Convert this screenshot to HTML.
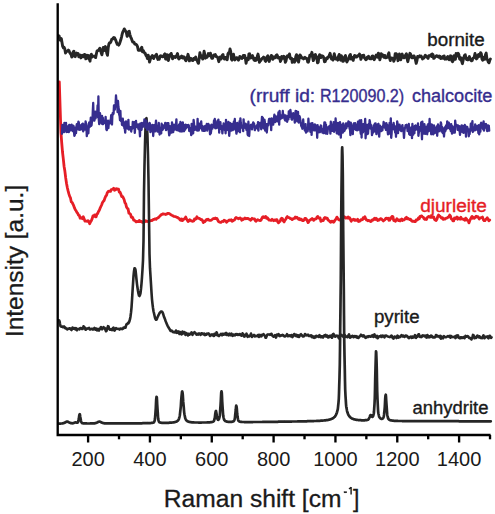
<!DOCTYPE html>
<html><head><meta charset="utf-8"><style>
html,body{margin:0;padding:0;background:#fff;}
svg{display:block;}
text{font-family:"Liberation Sans",sans-serif;}
</style></head><body>
<svg width="495" height="514" viewBox="0 0 495 514">
<rect width="495" height="514" fill="#fff"/>
<g fill="none" stroke-linejoin="round" stroke-linecap="round">
<path d="M59.3 81.9 L60.1 107.1 60.9 131.8 61.7 142.6 62.5 152.0 63.3 158.8 64.1 166.5 64.9 171.3 65.7 177.9 66.5 183.3 67.3 187.5 68.1 190.9 68.9 193.9 69.7 196.4 70.5 197.9 71.3 201.9 72.1 202.4 72.9 204.0 73.7 205.7 74.5 207.9 75.3 209.7 76.1 210.8 76.9 212.3 77.7 213.3 78.5 215.2 79.3 215.3 80.1 218.2 80.9 217.4 81.7 218.0 82.5 218.8 83.3 216.8 84.1 218.7 84.9 221.0 85.7 221.1 86.5 221.1 87.3 221.3 88.1 220.7 88.9 221.7 89.7 223.7 90.5 222.0 91.3 220.8 92.1 218.9 92.9 216.0 93.7 216.4 94.5 215.0 95.3 216.8 96.1 216.8 96.9 214.0 97.7 213.5 98.5 211.5 99.3 210.2 100.1 208.2 100.9 206.5 101.7 204.7 102.5 202.5 103.3 201.4 104.1 200.5 104.9 198.1 105.7 196.3 106.5 195.4 107.3 192.7 108.1 191.6 108.9 191.2 109.7 191.1 110.5 191.4 111.3 189.7 112.1 189.5 112.9 188.9 113.7 188.3 114.5 190.3 115.3 189.8 116.1 188.7 116.9 189.3 117.7 189.0 118.5 189.2 119.3 192.1 120.1 192.2 120.9 194.2 121.7 196.5 122.5 196.4 123.3 197.8 124.1 199.5 124.9 202.6 125.7 203.7 126.5 207.0 127.3 208.3 128.1 209.1 128.9 213.2 129.7 213.5 130.5 214.2 131.3 217.2 132.1 216.9 132.9 218.1 133.7 220.2 134.5 220.4 135.3 221.0 136.1 221.9 136.9 221.5 137.7 221.6 138.5 221.5 139.3 220.4 140.1 221.6 140.9 221.3 141.7 221.6 142.5 222.4 143.3 221.9 144.1 221.6 144.9 221.8 145.7 220.7 146.5 221.0 147.3 221.6 148.1 221.2 148.9 221.3 149.7 221.1 150.5 220.7 151.3 220.5 152.1 220.6 152.9 219.7 153.7 219.3 154.5 219.3 155.3 218.8 156.1 219.2 156.9 218.3 157.7 218.0 158.5 217.5 159.3 216.6 160.1 216.0 160.9 214.9 161.7 214.6 162.5 214.0 163.3 213.9 164.1 214.1 164.9 214.1 165.7 214.5 166.5 214.2 167.3 213.4 168.1 213.5 168.9 213.3 169.7 213.9 170.5 214.5 171.3 214.9 172.1 215.5 172.9 215.8 173.7 216.3 174.5 216.5 175.3 216.7 176.1 216.9 176.9 217.4 177.7 217.5 178.5 218.3 179.3 218.6 180.1 219.9 180.9 220.3 181.7 218.9 182.5 220.6 183.3 219.7 184.1 218.9 184.9 218.7 185.7 217.0 186.5 219.0 187.3 220.2 188.1 221.5 188.9 221.1 189.7 219.8 190.5 220.2 191.3 220.9 192.1 221.1 192.9 221.3 193.7 221.0 194.5 218.9 195.3 219.4 196.1 218.7 196.9 216.8 197.7 218.0 198.5 218.4 199.3 218.3 200.1 219.0 200.9 219.7 201.7 219.5 202.5 220.6 203.3 222.6 204.1 221.1 204.9 221.5 205.7 220.6 206.5 219.5 207.3 219.8 208.1 219.2 208.9 220.2 209.7 220.4 210.5 220.3 211.3 220.1 212.1 219.5 212.9 218.8 213.7 218.5 214.5 218.7 215.3 218.0 216.1 218.6 216.9 218.5 217.7 220.0 218.5 221.5 219.3 221.9 220.1 222.3 220.9 222.4 221.7 221.7 222.5 221.3 223.3 221.5 224.1 220.1 224.9 220.9 225.7 221.0 226.5 222.3 227.3 221.5 228.1 220.9 228.9 220.2 229.7 220.0 230.5 220.4 231.3 219.8 232.1 221.3 232.9 220.8 233.7 220.3 234.5 220.0 235.3 218.3 236.1 217.5 236.9 218.2 237.7 218.2 238.5 218.8 239.3 218.4 240.1 217.9 240.9 218.5 241.7 220.2 242.5 219.0 243.3 219.5 244.1 218.8 244.9 218.0 245.7 218.8 246.5 218.7 247.3 218.3 248.1 218.4 248.9 219.2 249.7 219.2 250.5 220.3 251.3 219.5 252.1 218.3 252.9 218.9 253.7 218.8 254.5 218.9 255.3 220.8 256.1 221.3 256.9 220.2 257.7 219.7 258.5 220.2 259.3 220.3 260.1 220.6 260.9 220.3 261.7 218.6 262.5 217.2 263.3 216.6 264.1 217.5 264.9 217.0 265.7 216.5 266.5 218.3 267.3 217.8 268.1 218.7 268.9 220.1 269.7 220.0 270.5 220.3 271.3 220.4 272.1 219.3 272.9 220.0 273.7 220.7 274.5 219.9 275.3 220.5 276.1 219.7 276.9 219.6 277.7 221.8 278.5 222.8 279.3 221.9 280.1 221.4 280.9 219.1 281.7 218.3 282.5 218.8 283.3 220.9 284.1 221.9 284.9 220.1 285.7 219.5 286.5 217.6 287.3 216.6 288.1 217.5 288.9 217.7 289.7 217.9 290.5 218.7 291.3 218.7 292.1 219.6 292.9 218.9 293.7 218.6 294.5 218.3 295.3 217.1 296.1 218.0 296.9 217.2 297.7 218.1 298.5 219.3 299.3 218.5 300.1 219.9 300.9 219.1 301.7 219.5 302.5 220.6 303.3 220.6 304.1 220.1 304.9 218.4 305.7 218.3 306.5 219.4 307.3 220.9 308.1 222.6 308.9 221.4 309.7 220.0 310.5 219.8 311.3 219.2 312.1 218.5 312.9 219.3 313.7 220.3 314.5 219.1 315.3 219.2 316.1 218.8 316.9 217.3 317.7 216.4 318.5 218.0 319.3 217.9 320.1 218.0 320.9 221.3 321.7 220.8 322.5 220.1 323.3 220.6 324.1 218.2 324.9 217.5 325.7 218.4 326.5 217.9 327.3 218.3 328.1 220.1 328.9 220.5 329.7 221.5 330.5 222.2 331.3 221.3 332.1 221.8 332.9 221.2 333.7 222.2 334.5 221.1 335.3 219.8 336.1 218.8 336.9 217.1 337.7 218.2 338.5 219.5 339.3 220.0 340.1 220.3 340.9 219.6 341.7 218.0 342.5 217.6 343.3 217.6 344.1 216.6 344.9 217.2 345.7 218.1 346.5 217.6 347.3 218.1 348.1 217.0 348.9 218.4 349.7 217.8 350.5 219.8 351.3 221.2 352.1 219.6 352.9 219.7 353.7 219.3 354.5 220.2 355.3 219.7 356.1 220.4 356.9 220.4 357.7 219.3 358.5 221.5 359.3 221.3 360.1 220.9 360.9 219.7 361.7 219.8 362.5 219.7 363.3 217.6 364.1 218.4 364.9 216.8 365.7 218.7 366.5 220.1 367.3 220.2 368.1 220.8 368.9 220.5 369.7 220.7 370.5 221.5 371.3 221.4 372.1 220.0 372.9 220.1 373.7 219.4 374.5 218.3 375.3 219.4 376.1 218.3 376.9 219.2 377.7 220.6 378.5 219.6 379.3 220.0 380.1 219.0 380.9 218.6 381.7 219.2 382.5 220.0 383.3 220.9 384.1 220.2 384.9 219.8 385.7 218.4 386.5 218.2 387.3 218.7 388.1 218.2 388.9 220.3 389.7 220.2 390.5 218.0 391.3 218.3 392.1 216.4 392.9 216.6 393.7 220.6 394.5 220.2 395.3 221.3 396.1 220.3 396.9 218.7 397.7 219.6 398.5 220.5 399.3 220.0 400.1 220.9 400.9 219.7 401.7 218.9 402.5 220.5 403.3 219.9 404.1 219.9 404.9 219.1 405.7 217.9 406.5 217.3 407.3 218.9 408.1 218.4 408.9 219.1 409.7 219.6 410.5 219.2 411.3 220.5 412.1 221.3 412.9 221.2 413.7 221.4 414.5 221.5 415.3 221.7 416.1 219.9 416.9 220.2 417.7 219.6 418.5 218.0 419.3 218.7 420.1 216.3 420.9 216.2 421.7 215.9 422.5 217.0 423.3 217.3 424.1 218.7 424.9 219.4 425.7 218.8 426.5 219.4 427.3 217.7 428.1 216.7 428.9 216.4 429.7 217.0 430.5 217.4 431.3 217.2 432.1 217.4 432.9 216.7 433.7 217.0 434.5 219.4 435.3 220.1 436.1 220.5 436.9 219.2 437.7 216.7 438.5 215.0 439.3 215.8 440.1 216.4 440.9 217.5 441.7 218.3 442.5 217.8 443.3 219.4 444.1 218.9 444.9 219.1 445.7 218.4 446.5 218.0 447.3 217.8 448.1 217.2 448.9 216.7 449.7 215.0 450.5 216.1 451.3 218.9 452.1 219.2 452.9 220.9 453.7 220.8 454.5 218.0 455.3 218.6 456.1 217.7 456.9 217.0 457.7 219.2 458.5 218.0 459.3 218.5 460.1 219.2 460.9 217.3 461.7 218.9 462.5 219.2 463.3 219.1 464.1 219.8 464.9 220.2 465.7 218.1 466.5 219.0 467.3 220.4 468.1 220.6 468.9 222.9 469.7 220.8 470.5 219.0 471.3 217.6 472.1 216.4 472.9 218.2 473.7 217.7 474.5 218.2 475.3 217.2 476.1 216.3 476.9 217.0 477.7 216.6 478.5 217.4 479.3 219.0 480.1 218.0 480.9 217.7 481.7 217.7 482.5 217.1 483.3 219.6 484.1 220.7 484.9 220.7 485.7 219.5 486.5 218.7 487.3 217.8 488.1 219.4 488.9 220.8 489.7 220.0" stroke="#e61e26" stroke-width="2.8"/>
<path d="M58.5 423.6 L58.8 423.6 59.0 423.6 59.2 423.6 59.5 423.6 59.8 423.6 60.0 423.6 60.2 423.6 60.5 423.6 60.8 423.5 61.0 423.5 61.2 423.5 61.5 423.5 61.8 423.5 62.0 423.5 62.2 423.4 62.5 423.4 62.8 423.3 63.0 423.3 63.2 423.2 63.5 423.2 63.8 423.1 64.0 423.0 64.2 422.9 64.5 422.8 64.8 422.7 65.0 422.5 65.2 422.4 65.5 422.2 65.8 422.1 66.0 422.0 66.2 421.8 66.5 421.7 66.8 421.7 67.0 421.6 67.2 421.6 67.5 421.7 67.8 421.7 68.0 421.8 68.2 422.0 68.5 422.1 68.8 422.2 69.0 422.4 69.2 422.5 69.5 422.6 69.8 422.7 70.0 422.8 70.2 422.9 70.5 423.0 70.8 423.1 71.0 423.1 71.2 423.2 71.5 423.2 71.8 423.2 72.0 423.3 72.2 423.3 72.5 423.3 72.8 423.2 73.0 423.2 73.2 423.2 73.5 423.1 73.8 423.0 74.0 422.9 74.2 422.8 74.5 422.7 74.8 422.6 75.0 422.5 75.2 422.4 75.5 422.4 75.8 422.4 76.0 422.4 76.2 422.5 76.5 422.6 76.8 422.6 77.0 422.7 77.2 422.7 77.5 422.6 77.8 422.4 78.0 422.1 78.2 421.4 78.5 420.5 78.8 419.1 79.0 417.5 79.2 415.8 79.5 414.5 79.8 414.2 80.0 415.0 80.2 416.5 80.5 418.2 80.8 419.8 81.0 421.0 81.2 421.9 81.5 422.4 81.8 422.8 82.0 423.0 82.2 423.1 82.5 423.2 82.8 423.2 83.0 423.3 83.2 423.3 83.5 423.3 83.8 423.3 84.0 423.4 84.2 423.4 84.5 423.4 84.8 423.4 85.0 423.4 85.2 423.4 85.5 423.4 85.8 423.4 86.0 423.4 86.2 423.4 86.5 423.4 86.8 423.5 87.0 423.5 87.2 423.5 87.5 423.5 87.8 423.5 88.0 423.5 88.2 423.5 88.5 423.5 88.8 423.5 89.0 423.5 89.2 423.5 89.5 423.5 89.8 423.5 90.0 423.5 90.2 423.4 90.5 423.4 90.8 423.4 91.0 423.4 91.2 423.4 91.5 423.4 91.8 423.4 92.0 423.4 92.2 423.4 92.5 423.4 92.8 423.4 93.0 423.4 93.2 423.4 93.5 423.4 93.8 423.4 94.0 423.3 94.2 423.3 94.5 423.3 94.8 423.3 95.0 423.2 95.2 423.2 95.5 423.1 95.8 423.1 96.0 423.0 96.2 422.9 96.5 422.8 96.8 422.7 97.0 422.6 97.2 422.5 97.5 422.3 97.8 422.2 98.0 422.1 98.2 421.9 98.5 421.8 98.8 421.7 99.0 421.6 99.2 421.6 99.5 421.6 99.8 421.6 100.0 421.7 100.2 421.8 100.5 421.9 100.8 422.0 101.0 422.2 101.2 422.3 101.5 422.4 101.8 422.6 102.0 422.7 102.2 422.8 102.5 422.9 102.8 423.0 103.0 423.0 103.2 423.1 103.5 423.1 103.8 423.2 104.0 423.2 104.2 423.3 104.5 423.3 104.8 423.3 105.0 423.3 105.2 423.3 105.5 423.3 105.8 423.4 106.0 423.4 106.2 423.4 106.5 423.4 106.8 423.4 107.0 423.4 107.2 423.4 107.5 423.4 107.8 423.4 108.0 423.4 108.2 423.4 108.5 423.4 108.8 423.4 109.0 423.4 109.2 423.4 109.5 423.4 109.8 423.4 110.0 423.4 110.2 423.4 110.5 423.4 110.8 423.4 111.0 423.4 111.2 423.4 111.5 423.4 111.8 423.4 112.0 423.4 112.2 423.4 112.5 423.4 112.8 423.4 113.0 423.4 113.2 423.4 113.5 423.4 113.8 423.4 114.0 423.4 114.2 423.4 114.5 423.4 114.8 423.4 115.0 423.4 115.2 423.4 115.5 423.4 115.8 423.4 116.0 423.4 116.2 423.4 116.5 423.4 116.8 423.4 117.0 423.4 117.2 423.4 117.5 423.4 117.8 423.4 118.0 423.4 118.2 423.4 118.5 423.4 118.8 423.4 119.0 423.4 119.2 423.4 119.5 423.4 119.8 423.4 120.0 423.4 120.2 423.4 120.5 423.4 120.8 423.4 121.0 423.4 121.2 423.4 121.5 423.4 121.8 423.4 122.0 423.4 122.2 423.4 122.5 423.4 122.8 423.4 123.0 423.4 123.2 423.4 123.5 423.4 123.8 423.4 124.0 423.4 124.2 423.4 124.5 423.4 124.8 423.4 125.0 423.4 125.2 423.4 125.5 423.4 125.8 423.4 126.0 423.4 126.2 423.4 126.5 423.4 126.8 423.4 127.0 423.4 127.2 423.4 127.5 423.4 127.8 423.4 128.0 423.4 128.2 423.3 128.5 423.3 128.8 423.3 129.0 423.3 129.2 423.3 129.5 423.3 129.8 423.3 130.0 423.3 130.2 423.3 130.5 423.3 130.8 423.3 131.0 423.3 131.2 423.3 131.5 423.3 131.8 423.3 132.0 423.3 132.2 423.3 132.5 423.3 132.8 423.3 133.0 423.3 133.2 423.3 133.5 423.3 133.8 423.3 134.0 423.3 134.2 423.3 134.5 423.3 134.8 423.3 135.0 423.3 135.2 423.3 135.5 423.3 135.8 423.3 136.0 423.3 136.2 423.3 136.5 423.3 136.8 423.3 137.0 423.3 137.2 423.3 137.5 423.3 137.8 423.3 138.0 423.3 138.2 423.3 138.5 423.3 138.8 423.3 139.0 423.3 139.2 423.3 139.5 423.3 139.8 423.3 140.0 423.3 140.2 423.3 140.5 423.3 140.8 423.3 141.0 423.3 141.2 423.3 141.5 423.3 141.8 423.3 142.0 423.3 142.2 423.3 142.5 423.2 142.8 423.2 143.0 423.2 143.2 423.2 143.5 423.2 143.8 423.2 144.0 423.2 144.2 423.2 144.5 423.2 144.8 423.2 145.0 423.2 145.2 423.2 145.5 423.2 145.8 423.2 146.0 423.2 146.2 423.2 146.5 423.2 146.8 423.2 147.0 423.2 147.2 423.2 147.5 423.2 147.8 423.2 148.0 423.2 148.2 423.1 148.5 423.1 148.8 423.1 149.0 423.1 149.2 423.1 149.5 423.1 149.8 423.1 150.0 423.1 150.2 423.1 150.5 423.0 150.8 423.0 151.0 423.0 151.2 423.0 151.5 422.9 151.8 422.9 152.0 422.9 152.2 422.8 152.5 422.8 152.8 422.7 153.0 422.7 153.2 422.6 153.5 422.5 153.8 422.4 154.0 422.1 154.2 421.8 154.5 421.2 154.8 420.2 155.0 418.5 155.2 416.0 155.5 412.4 155.8 408.1 156.0 403.4 156.2 399.3 156.5 396.9 156.8 397.1 157.0 400.0 157.2 404.3 157.5 409.0 157.8 413.2 158.0 416.5 158.2 418.8 158.5 420.4 158.8 421.3 159.0 421.8 159.2 422.1 159.5 422.3 159.8 422.4 160.0 422.5 160.2 422.6 160.5 422.6 160.8 422.7 161.0 422.7 161.2 422.7 161.5 422.8 161.8 422.8 162.0 422.8 162.2 422.8 162.5 422.8 162.8 422.8 163.0 422.8 163.2 422.9 163.5 422.9 163.8 422.9 164.0 422.9 164.2 422.9 164.5 422.9 164.8 422.9 165.0 422.9 165.2 422.9 165.5 422.9 165.8 422.9 166.0 422.9 166.2 422.8 166.5 422.8 166.8 422.8 167.0 422.8 167.2 422.8 167.5 422.8 167.8 422.8 168.0 422.8 168.2 422.8 168.5 422.8 168.8 422.8 169.0 422.8 169.2 422.7 169.5 422.7 169.8 422.7 170.0 422.7 170.2 422.7 170.5 422.7 170.8 422.7 171.0 422.6 171.2 422.6 171.5 422.6 171.8 422.6 172.0 422.6 172.2 422.5 172.5 422.5 172.8 422.5 173.0 422.4 173.2 422.4 173.5 422.4 173.8 422.3 174.0 422.3 174.2 422.3 174.5 422.2 174.8 422.1 175.0 422.1 175.2 422.0 175.5 421.9 175.8 421.9 176.0 421.8 176.2 421.7 176.5 421.6 176.8 421.4 177.0 421.3 177.2 421.1 177.5 420.9 177.8 420.7 178.0 420.4 178.2 420.1 178.5 419.7 178.8 419.2 179.0 418.6 179.2 417.8 179.5 416.8 179.8 415.5 180.0 413.8 180.2 411.8 180.5 409.4 180.8 406.6 181.0 403.4 181.2 400.0 181.5 396.7 181.8 393.8 182.0 391.9 182.2 391.5 182.5 392.5 182.8 394.9 183.0 398.0 183.2 401.4 183.5 404.7 183.8 407.7 184.0 410.4 184.2 412.6 184.5 414.5 184.8 416.0 185.0 417.1 185.2 418.1 185.5 418.8 185.8 419.4 186.0 419.8 186.2 420.2 186.5 420.5 186.8 420.7 187.0 420.9 187.2 421.1 187.5 421.2 187.8 421.4 188.0 421.5 188.2 421.6 188.5 421.7 188.8 421.8 189.0 421.8 189.2 421.9 189.5 422.0 189.8 422.0 190.0 422.1 190.2 422.1 190.5 422.1 190.8 422.2 191.0 422.2 191.2 422.2 191.5 422.3 191.8 422.3 192.0 422.3 192.2 422.3 192.5 422.4 192.8 422.4 193.0 422.4 193.2 422.4 193.5 422.4 193.8 422.4 194.0 422.4 194.2 422.5 194.5 422.5 194.8 422.5 195.0 422.5 195.2 422.5 195.5 422.5 195.8 422.5 196.0 422.5 196.2 422.5 196.5 422.5 196.8 422.5 197.0 422.5 197.2 422.5 197.5 422.5 197.8 422.5 198.0 422.5 198.2 422.5 198.5 422.5 198.8 422.6 199.0 422.6 199.2 422.6 199.5 422.6 199.8 422.6 200.0 422.6 200.2 422.6 200.5 422.6 200.8 422.6 201.0 422.6 201.2 422.6 201.5 422.5 201.8 422.5 202.0 422.5 202.2 422.5 202.5 422.5 202.8 422.5 203.0 422.5 203.2 422.5 203.5 422.5 203.8 422.5 204.0 422.5 204.2 422.5 204.5 422.5 204.8 422.5 205.0 422.5 205.2 422.5 205.5 422.5 205.8 422.5 206.0 422.5 206.2 422.5 206.5 422.5 206.8 422.5 207.0 422.4 207.2 422.4 207.5 422.4 207.8 422.4 208.0 422.4 208.2 422.4 208.5 422.4 208.8 422.4 209.0 422.4 209.2 422.3 209.5 422.3 209.8 422.3 210.0 422.3 210.2 422.3 210.5 422.2 210.8 422.2 211.0 422.2 211.2 422.2 211.5 422.1 211.8 422.1 212.0 422.0 212.2 422.0 212.5 421.9 212.8 421.8 213.0 421.7 213.2 421.6 213.5 421.4 213.8 421.2 214.0 420.7 214.2 420.1 214.5 419.2 214.8 417.9 215.0 416.2 215.2 414.3 215.5 412.4 215.8 411.2 216.0 411.0 216.2 412.0 216.5 413.6 216.8 415.4 217.0 417.0 217.2 418.3 217.5 419.1 217.8 419.6 218.0 419.8 218.2 419.9 218.5 419.7 218.8 419.5 219.0 419.0 219.2 418.2 219.5 417.1 219.8 415.4 220.0 413.1 220.2 409.9 220.5 405.9 220.8 401.2 221.0 396.5 221.2 392.8 221.5 391.3 221.8 392.8 222.0 396.6 222.2 401.3 222.5 406.0 222.8 410.0 223.0 413.2 223.2 415.6 223.5 417.3 223.8 418.5 224.0 419.3 224.2 419.9 224.5 420.3 224.8 420.6 225.0 420.8 225.2 421.0 225.5 421.1 225.8 421.2 226.0 421.4 226.2 421.4 226.5 421.5 226.8 421.6 227.0 421.6 227.2 421.7 227.5 421.7 227.8 421.8 228.0 421.8 228.2 421.8 228.5 421.8 228.8 421.9 229.0 421.9 229.2 421.9 229.5 421.9 229.8 421.9 230.0 421.9 230.2 421.9 230.5 421.9 230.8 421.9 231.0 421.9 231.2 421.9 231.5 421.8 231.8 421.8 232.0 421.8 232.2 421.7 232.5 421.7 232.8 421.6 233.0 421.5 233.2 421.4 233.5 421.3 233.8 421.1 234.0 420.8 234.2 420.4 234.5 419.7 234.8 418.6 235.0 417.1 235.2 414.9 235.5 412.3 235.8 409.5 236.0 407.0 236.2 405.7 236.5 406.3 236.8 408.4 237.0 411.2 237.2 414.0 237.5 416.3 237.8 418.1 238.0 419.3 238.2 420.2 238.5 420.7 238.8 421.0 239.0 421.3 239.2 421.4 239.5 421.5 239.8 421.6 240.0 421.7 240.2 421.7 240.5 421.8 240.8 421.8 241.0 421.9 241.2 421.9 241.5 421.9 241.8 421.9 242.0 422.0 242.2 422.0 242.5 422.0 242.8 422.0 243.0 422.0 243.2 422.0 243.5 422.0 243.8 422.0 244.0 422.0 244.2 422.0 244.5 422.1 244.8 422.1 245.0 422.1 245.2 422.1 245.5 422.1 245.8 422.1 246.0 422.1 246.2 422.1 246.5 422.1 246.8 422.1 247.0 422.1 247.2 422.1 247.5 422.1 247.8 422.1 248.0 422.1 248.2 422.1 248.5 422.1 248.8 422.1 249.0 422.1 249.2 422.1 249.5 422.1 249.8 422.1 250.0 422.1 250.2 422.1 250.5 422.1 250.8 422.1 251.0 422.1 251.2 422.1 251.5 422.1 251.8 422.1 252.0 422.1 252.2 422.1 252.5 422.1 252.8 422.1 253.0 422.0 253.2 422.0 253.5 422.0 253.8 422.0 254.0 422.0 254.2 422.0 254.5 422.0 254.8 422.0 255.0 422.0 255.2 422.0 255.5 422.0 255.8 422.0 256.0 422.0 256.2 422.0 256.5 422.0 256.8 422.0 257.0 422.0 257.2 422.0 257.5 422.0 257.8 422.0 258.0 422.0 258.2 422.0 258.5 422.0 258.8 422.0 259.0 422.0 259.2 422.0 259.5 422.0 259.8 422.0 260.0 422.0 260.2 422.0 260.5 422.0 260.8 422.0 261.0 422.0 261.2 422.0 261.5 422.0 261.8 422.0 262.0 422.0 262.2 422.0 262.5 422.0 262.8 421.9 263.0 421.9 263.2 421.9 263.5 421.9 263.8 421.9 264.0 421.9 264.2 421.9 264.5 421.9 264.8 421.9 265.0 421.9 265.2 421.9 265.5 421.9 265.8 421.9 266.0 421.9 266.2 421.9 266.5 421.9 266.8 421.9 267.0 421.9 267.2 421.9 267.5 421.9 267.8 421.9 268.0 421.9 268.2 421.9 268.5 421.9 268.8 421.9 269.0 421.9 269.2 421.9 269.5 421.9 269.8 421.9 270.0 421.9 270.2 421.9 270.5 421.9 270.8 421.8 271.0 421.8 271.2 421.8 271.5 421.8 271.8 421.8 272.0 421.8 272.2 421.8 272.5 421.8 272.8 421.8 273.0 421.8 273.2 421.8 273.5 421.8 273.8 421.8 274.0 421.8 274.2 421.8 274.5 421.8 274.8 421.8 275.0 421.8 275.2 421.8 275.5 421.8 275.8 421.8 276.0 421.8 276.2 421.8 276.5 421.8 276.8 421.8 277.0 421.8 277.2 421.8 277.5 421.8 277.8 421.8 278.0 421.8 278.2 421.7 278.5 421.7 278.8 421.7 279.0 421.7 279.2 421.7 279.5 421.7 279.8 421.7 280.0 421.7 280.2 421.7 280.5 421.7 280.8 421.7 281.0 421.7 281.2 421.7 281.5 421.7 281.8 421.7 282.0 421.7 282.2 421.7 282.5 421.7 282.8 421.7 283.0 421.7 283.2 421.7 283.5 421.7 283.8 421.7 284.0 421.7 284.2 421.7 284.5 421.7 284.8 421.7 285.0 421.7 285.2 421.6 285.5 421.6 285.8 421.6 286.0 421.6 286.2 421.6 286.5 421.6 286.8 421.6 287.0 421.6 287.2 421.6 287.5 421.6 287.8 421.6 288.0 421.6 288.2 421.6 288.5 421.6 288.8 421.6 289.0 421.6 289.2 421.6 289.5 421.6 289.8 421.6 290.0 421.6 290.2 421.6 290.5 421.6 290.8 421.6 291.0 421.6 291.2 421.6 291.5 421.6 291.8 421.5 292.0 421.5 292.2 421.5 292.5 421.5 292.8 421.5 293.0 421.5 293.2 421.5 293.5 421.5 293.8 421.5 294.0 421.5 294.2 421.5 294.5 421.5 294.8 421.5 295.0 421.5 295.2 421.5 295.5 421.5 295.8 421.5 296.0 421.5 296.2 421.5 296.5 421.5 296.8 421.5 297.0 421.5 297.2 421.5 297.5 421.5 297.8 421.4 298.0 421.4 298.2 421.4 298.5 421.4 298.8 421.4 299.0 421.4 299.2 421.4 299.5 421.4 299.8 421.4 300.0 421.4 300.2 421.4 300.5 421.4 300.8 421.4 301.0 421.4 301.2 421.4 301.5 421.4 301.8 421.4 302.0 421.4 302.2 421.4 302.5 421.4 302.8 421.3 303.0 421.3 303.2 421.3 303.5 421.3 303.8 421.3 304.0 421.3 304.2 421.3 304.5 421.3 304.8 421.3 305.0 421.3 305.2 421.3 305.5 421.3 305.8 421.3 306.0 421.3 306.2 421.3 306.5 421.3 306.8 421.3 307.0 421.3 307.2 421.2 307.5 421.2 307.8 421.2 308.0 421.2 308.2 421.2 308.5 421.2 308.8 421.2 309.0 421.2 309.2 421.2 309.5 421.2 309.8 421.2 310.0 421.2 310.2 421.2 310.5 421.2 310.8 421.2 311.0 421.1 311.2 421.1 311.5 421.1 311.8 421.1 312.0 421.1 312.2 421.1 312.5 421.1 312.8 421.1 313.0 421.1 313.2 421.1 313.5 421.1 313.8 421.1 314.0 421.0 314.2 421.0 314.5 421.0 314.8 421.0 315.0 421.0 315.2 421.0 315.5 421.0 315.8 421.0 316.0 421.0 316.2 421.0 316.5 421.0 316.8 420.9 317.0 420.9 317.2 420.9 317.5 420.9 317.8 420.9 318.0 420.9 318.2 420.9 318.5 420.9 318.8 420.8 319.0 420.8 319.2 420.8 319.5 420.8 319.8 420.8 320.0 420.8 320.2 420.8 320.5 420.7 320.8 420.7 321.0 420.7 321.2 420.7 321.5 420.7 321.8 420.7 322.0 420.6 322.2 420.6 322.5 420.6 322.8 420.6 323.0 420.6 323.2 420.5 323.5 420.5 323.8 420.5 324.0 420.5 324.2 420.4 324.5 420.4 324.8 420.4 325.0 420.4 325.2 420.3 325.5 420.3 325.8 420.3 326.0 420.2 326.2 420.2 326.5 420.2 326.8 420.1 327.0 420.1 327.2 420.1 327.5 420.0 327.8 420.0 328.0 419.9 328.2 419.9 328.5 419.8 328.8 419.8 329.0 419.7 329.2 419.7 329.5 419.6 329.8 419.5 330.0 419.5 330.2 419.4 330.5 419.3 330.8 419.2 331.0 419.1 331.2 419.0 331.5 418.9 331.8 418.8 332.0 418.7 332.2 418.6 332.5 418.5 332.8 418.3 333.0 418.2 333.2 418.0 333.5 417.8 333.8 417.6 334.0 417.4 334.2 417.2 334.5 417.0 334.8 416.7 335.0 416.4 335.2 416.0 335.5 415.7 335.8 415.3 336.0 414.8 336.2 414.3 336.5 413.7 336.8 413.0 337.0 412.3 337.2 411.4 337.5 410.3 337.8 409.1 338.0 407.4 338.2 405.4 338.5 402.6 338.8 398.8 339.0 393.6 339.2 386.6 339.5 377.2 339.8 364.8 340.0 348.9 340.2 329.1 340.5 305.5 340.8 278.5 341.0 249.0 341.2 218.7 341.5 190.0 341.8 166.3 342.0 151.1 342.2 147.4 342.5 155.9 342.8 174.9 343.0 201.1 343.2 230.8 343.5 261.0 343.8 289.7 344.0 315.4 344.2 337.5 344.5 355.7 344.8 370.1 345.0 381.3 345.2 389.7 345.5 395.9 345.8 400.4 346.0 403.8 346.2 406.2 346.5 408.1 346.8 409.6 347.0 410.8 347.2 411.7 347.5 412.6 347.8 413.3 348.0 413.9 348.2 414.5 348.5 415.0 348.8 415.4 349.0 415.8 349.2 416.1 349.5 416.5 349.8 416.8 350.0 417.0 350.2 417.3 350.5 417.5 350.8 417.7 351.0 417.9 351.2 418.0 351.5 418.2 351.8 418.3 352.0 418.5 352.2 418.6 352.5 418.7 352.8 418.8 353.0 418.9 353.2 419.0 353.5 419.1 353.8 419.2 354.0 419.3 354.2 419.3 354.5 419.4 354.8 419.5 355.0 419.5 355.2 419.6 355.5 419.6 355.8 419.7 356.0 419.7 356.2 419.8 356.5 419.8 356.8 419.9 357.0 419.9 357.2 419.9 357.5 420.0 357.8 420.0 358.0 420.0 358.2 420.0 358.5 420.1 358.8 420.1 359.0 420.1 359.2 420.1 359.5 420.2 359.8 420.2 360.0 420.2 360.2 420.2 360.5 420.2 360.8 420.2 361.0 420.2 361.2 420.3 361.5 420.3 361.8 420.3 362.0 420.3 362.2 420.3 362.5 420.3 362.8 420.3 363.0 420.3 363.2 420.3 363.5 420.3 363.8 420.3 364.0 420.3 364.2 420.3 364.5 420.3 364.8 420.3 365.0 420.2 365.2 420.2 365.5 420.2 365.8 420.2 366.0 420.2 366.2 420.1 366.5 420.1 366.8 420.1 367.0 420.0 367.2 420.0 367.5 419.9 367.8 419.8 368.0 419.7 368.2 419.5 368.5 419.3 368.8 418.9 369.0 418.5 369.2 418.0 369.5 417.4 369.8 416.7 370.0 416.0 370.2 415.4 370.5 415.1 370.8 415.0 371.0 415.2 371.2 415.6 371.5 416.0 371.8 416.4 372.0 416.7 372.2 416.8 372.5 416.8 372.8 416.6 373.0 416.3 373.2 415.7 373.5 414.8 373.8 413.5 374.0 411.5 374.2 408.5 374.5 404.1 374.8 397.9 375.0 389.6 375.2 379.4 375.5 368.0 375.8 357.6 376.0 351.3 376.2 352.1 376.5 359.5 376.8 370.3 377.0 381.6 377.2 391.4 377.5 399.3 377.8 405.2 378.0 409.3 378.2 412.1 378.5 414.0 378.8 415.2 379.0 416.1 379.2 416.8 379.5 417.3 379.8 417.6 380.0 418.0 380.2 418.2 380.5 418.4 380.8 418.6 381.0 418.7 381.2 418.8 381.5 418.8 381.8 418.8 382.0 418.8 382.2 418.8 382.5 418.7 382.8 418.5 383.0 418.2 383.2 417.9 383.5 417.3 383.8 416.4 384.0 415.0 384.2 413.0 384.5 410.3 384.8 406.8 385.0 402.7 385.2 398.6 385.5 395.5 385.8 394.7 386.0 396.6 386.2 400.3 386.5 404.5 386.8 408.5 387.0 411.7 387.2 414.2 387.5 416.0 387.8 417.2 388.0 418.1 388.2 418.6 388.5 419.0 388.8 419.3 389.0 419.5 389.2 419.7 389.5 419.9 389.8 420.0 390.0 420.1 390.2 420.2 390.5 420.3 390.8 420.3 391.0 420.4 391.2 420.4 391.5 420.5 391.8 420.5 392.0 420.6 392.2 420.6 392.5 420.6 392.8 420.7 393.0 420.7 393.2 420.7 393.5 420.7 393.8 420.8 394.0 420.8 394.2 420.8 394.5 420.8 394.8 420.8 395.0 420.8 395.2 420.9 395.5 420.9 395.8 420.9 396.0 420.9 396.2 420.9 396.5 420.9 396.8 420.9 397.0 420.9 397.2 420.9 397.5 420.9 397.8 421.0 398.0 421.0 398.2 421.0 398.5 421.0 398.8 421.0 399.0 421.0 399.2 421.0 399.5 421.0 399.8 421.0 400.0 421.0 400.2 421.0 400.5 421.0 400.8 421.0 401.0 421.0 401.2 421.0 401.5 421.0 401.8 421.0 402.0 421.0 402.2 421.0 402.5 421.1 402.8 421.1 403.0 421.1 403.2 421.1 403.5 421.1 403.8 421.1 404.0 421.1 404.2 421.1 404.5 421.1 404.8 421.1 405.0 421.1 405.2 421.1 405.5 421.1 405.8 421.1 406.0 421.1 406.2 421.1 406.5 421.1 406.8 421.1 407.0 421.1 407.2 421.1 407.5 421.1 407.8 421.1 408.0 421.1 408.2 421.1 408.5 421.1 408.8 421.1 409.0 421.1 409.2 421.1 409.5 421.1 409.8 421.1 410.0 421.1 410.2 421.1 410.5 421.1 410.8 421.1 411.0 421.1 411.2 421.1 411.5 421.1 411.8 421.1 412.0 421.1 412.2 421.1 412.5 421.1 412.8 421.1 413.0 421.1 413.2 421.1 413.5 421.1 413.8 421.1 414.0 421.1 414.2 421.2 414.5 421.2 414.8 421.2 415.0 421.2 415.2 421.2 415.5 421.2 415.8 421.2 416.0 421.2 416.2 421.2 416.5 421.2 416.8 421.2 417.0 421.2 417.2 421.2 417.5 421.2 417.8 421.2 418.0 421.2 418.2 421.2 418.5 421.2 418.8 421.2 419.0 421.2 419.2 421.2 419.5 421.2 419.8 421.2 420.0 421.2 420.2 421.2 420.5 421.2 420.8 421.2 421.0 421.2 421.2 421.2 421.5 421.2 421.8 421.2 422.0 421.2 422.2 421.2 422.5 421.2 422.8 421.2 423.0 421.2 423.2 421.2 423.5 421.2 423.8 421.2 424.0 421.2 424.2 421.2 424.5 421.2 424.8 421.2 425.0 421.2 425.2 421.2 425.5 421.2 425.8 421.2 426.0 421.2 426.2 421.2 426.5 421.2 426.8 421.2 427.0 421.2 427.2 421.2 427.5 421.2 427.8 421.2 428.0 421.2 428.2 421.2 428.5 421.2 428.8 421.2 429.0 421.2 429.2 421.2 429.5 421.2 429.8 421.2 430.0 421.2 430.2 421.2 430.5 421.2 430.8 421.2 431.0 421.2 431.2 421.2 431.5 421.2 431.8 421.2 432.0 421.2 432.2 421.2 432.5 421.2 432.8 421.2 433.0 421.2 433.2 421.2 433.5 421.2 433.8 421.2 434.0 421.2 434.2 421.2 434.5 421.2 434.8 421.2 435.0 421.2 435.2 421.2 435.5 421.2 435.8 421.2 436.0 421.2 436.2 421.2 436.5 421.2 436.8 421.2 437.0 421.2 437.2 421.2 437.5 421.2 437.8 421.2 438.0 421.2 438.2 421.2 438.5 421.2 438.8 421.2 439.0 421.2 439.2 421.2 439.5 421.2 439.8 421.2 440.0 421.2 440.2 421.2 440.5 421.2 440.8 421.2 441.0 421.2 441.2 421.2 441.5 421.2 441.8 421.2 442.0 421.2 442.2 421.2 442.5 421.2 442.8 421.2 443.0 421.2 443.2 421.2 443.5 421.2 443.8 421.2 444.0 421.2 444.2 421.2 444.5 421.2 444.8 421.2 445.0 421.2 445.2 421.2 445.5 421.2 445.8 421.2 446.0 421.2 446.2 421.2 446.5 421.2 446.8 421.2 447.0 421.2 447.2 421.2 447.5 421.2 447.8 421.2 448.0 421.2 448.2 421.2 448.5 421.2 448.8 421.2 449.0 421.2 449.2 421.2 449.5 421.2 449.8 421.2 450.0 421.2 450.2 421.2 450.5 421.2 450.8 421.2 451.0 421.2 451.2 421.2 451.5 421.2 451.8 421.2 452.0 421.2 452.2 421.2 452.5 421.2 452.8 421.2 453.0 421.2 453.2 421.2 453.5 421.2 453.8 421.2 454.0 421.2 454.2 421.2 454.5 421.2 454.8 421.2 455.0 421.2 455.2 421.2 455.5 421.2 455.8 421.2 456.0 421.2 456.2 421.2 456.5 421.2 456.8 421.2 457.0 421.2 457.2 421.2 457.5 421.2 457.8 421.2 458.0 421.2 458.2 421.2 458.5 421.2 458.8 421.2 459.0 421.3 459.2 421.3 459.5 421.3 459.8 421.3 460.0 421.3 460.2 421.3 460.5 421.3 460.8 421.3 461.0 421.3 461.2 421.3 461.5 421.3 461.8 421.3 462.0 421.3 462.2 421.3 462.5 421.3 462.8 421.3 463.0 421.3 463.2 421.3 463.5 421.3 463.8 421.3 464.0 421.3 464.2 421.3 464.5 421.3 464.8 421.3 465.0 421.3 465.2 421.3 465.5 421.3 465.8 421.3 466.0 421.3 466.2 421.3 466.5 421.3 466.8 421.3 467.0 421.3 467.2 421.3 467.5 421.3 467.8 421.3 468.0 421.3 468.2 421.3 468.5 421.3 468.8 421.3 469.0 421.3 469.2 421.3 469.5 421.3 469.8 421.3 470.0 421.3 470.2 421.3 470.5 421.3 470.8 421.3 471.0 421.3 471.2 421.3 471.5 421.3 471.8 421.3 472.0 421.3 472.2 421.3 472.5 421.3 472.8 421.3 473.0 421.3 473.2 421.3 473.5 421.3 473.8 421.3 474.0 421.3 474.2 421.3 474.5 421.3 474.8 421.3 475.0 421.3 475.2 421.3 475.5 421.3 475.8 421.3 476.0 421.3 476.2 421.3 476.5 421.3 476.8 421.3 477.0 421.3 477.2 421.3 477.5 421.3 477.8 421.3 478.0 421.3 478.2 421.3 478.5 421.3 478.8 421.3 479.0 421.3 479.2 421.3 479.5 421.3 479.8 421.3 480.0 421.3 480.2 421.3 480.5 421.3 480.8 421.3 481.0 421.3 481.2 421.3 481.5 421.3 481.8 421.3 482.0 421.3 482.2 421.3 482.5 421.3 482.8 421.3 483.0 421.3 483.2 421.3 483.5 421.3 483.8 421.3 484.0 421.3 484.2 421.3 484.5 421.3 484.8 421.3 485.0 421.3 485.2 421.3 485.5 421.3 485.8 421.3 486.0 421.3 486.2 421.3 486.5 421.3 486.8 421.3 487.0 421.3 487.2 421.3 487.5 421.3 487.8 421.3 488.0 421.3 488.2 421.3 488.5 421.3 488.8 421.3 489.0 421.3 489.2 421.3 489.5 421.3 489.8 421.3 490.0 421.3 490.2 421.3 490.5 421.3 490.8 421.3" stroke="#262626" stroke-width="2.7"/>
<path d="M58.5 320.3 L59.0 320.3 59.5 321.1 60.0 323.8 60.5 326.2 61.0 326.5 61.5 326.7 62.0 326.7 62.5 326.5 63.0 327.2 63.5 326.9 64.0 326.4 64.5 327.4 65.0 328.1 65.5 327.7 66.0 328.4 66.5 328.9 67.0 329.3 67.5 329.4 68.0 328.6 68.5 328.7 69.0 328.8 69.5 328.3 70.0 328.2 70.5 329.0 71.0 329.6 71.5 330.0 72.0 328.6 72.5 327.5 73.0 328.3 73.5 328.7 74.0 328.6 74.5 328.2 75.0 329.0 75.5 329.4 76.0 328.2 76.5 328.9 77.0 330.2 77.5 329.1 78.0 329.0 78.5 328.9 79.0 329.0 79.5 329.3 80.0 328.2 80.5 328.1 81.0 328.1 81.5 328.5 82.0 329.0 82.5 328.9 83.0 328.5 83.5 326.3 84.0 326.7 84.5 327.7 85.0 327.8 85.5 329.6 86.0 329.6 86.5 328.7 87.0 328.5 87.5 328.6 88.0 328.4 88.5 328.1 89.0 327.9 89.5 329.0 90.0 329.5 90.5 329.4 91.0 329.2 91.5 328.7 92.0 328.7 92.5 329.0 93.0 329.6 93.5 329.4 94.0 328.5 94.5 327.9 95.0 329.3 95.5 329.6 96.0 328.5 96.5 329.5 97.0 330.3 97.5 329.8 98.0 328.9 98.5 330.0 99.0 330.5 99.5 329.4 100.0 329.0 100.5 327.8 101.0 327.1 101.5 328.2 102.0 329.3 102.5 328.9 103.0 328.0 103.5 327.2 104.0 327.7 104.5 327.7 105.0 328.5 105.5 330.0 106.0 331.2 106.5 331.0 107.0 329.0 107.5 327.9 108.0 326.2 108.5 326.4 109.0 328.3 109.5 329.3 110.0 329.7 110.5 329.5 111.0 329.3 111.5 329.3 112.0 330.1 112.5 329.0 113.0 327.9 113.5 327.7 114.0 328.9 114.5 330.6 115.0 330.0 115.5 328.5 116.0 328.2 116.5 328.8 117.0 328.7 117.5 328.7 118.0 329.0 118.5 328.9 119.0 329.1 119.5 329.5 120.0 328.8 120.5 328.6 121.0 328.5 121.5 329.0 122.0 329.1 122.5 328.8 123.0 328.7 123.5 327.7 124.0 328.0 124.5 327.8 125.0 327.2 125.5 327.6 126.0 325.6 126.5 324.3 127.0 324.4 127.5 323.9 128.0 322.8 128.5 323.2 129.0 322.3 129.5 321.0 130.0 319.2 130.5 316.4 131.0 312.7 131.5 307.6 132.0 300.2 132.5 291.7 133.0 283.9 133.5 276.2 134.0 271.2 134.5 268.2 135.0 268.4 135.5 270.0 136.0 274.5 136.5 279.5 137.0 284.1 137.5 287.7 138.0 291.0 138.5 293.7 139.0 295.6 139.5 296.0 140.0 295.0 140.5 293.1 141.0 288.9 141.5 283.7 142.0 277.2 142.5 269.4 143.0 260.5 143.5 241.2 144.0 192.3 144.5 165.1 145.0 143.7 145.5 127.9 146.0 119.1 146.5 118.1 147.0 124.9 147.5 137.3 148.0 155.7 148.5 180.8 149.0 217.6 149.5 253.8 150.0 268.2 150.5 276.1 151.0 284.1 151.5 292.3 152.0 299.3 152.5 304.1 153.0 308.0 153.5 311.2 154.0 313.3 154.5 315.5 155.0 317.7 155.5 319.0 156.0 319.7 156.5 319.7 157.0 318.6 157.5 317.3 158.0 316.2 158.5 315.1 159.0 314.2 159.5 313.2 160.0 312.4 160.5 312.0 161.0 311.6 161.5 311.5 162.0 311.7 162.5 312.3 163.0 313.5 163.5 315.1 164.0 316.8 164.5 318.1 165.0 319.3 165.5 320.7 166.0 322.0 166.5 323.2 167.0 324.4 167.5 325.6 168.0 326.5 168.5 327.4 169.0 328.3 169.5 329.0 170.0 329.9 170.5 330.8 171.0 330.5 171.5 330.5 172.0 331.0 172.5 331.7 173.0 332.2 173.5 331.9 174.0 332.1 174.5 332.0 175.0 332.4 175.5 332.5 176.0 330.6 176.5 331.5 177.0 332.9 177.5 331.5 178.0 331.4 178.5 331.7 179.0 333.1 179.5 334.0 180.0 331.9 180.5 332.9 181.0 333.6 181.5 334.4 182.0 334.1 182.5 331.6 183.0 332.3 183.5 333.4 184.0 333.1 184.5 332.1 185.0 332.6 185.5 334.9 186.0 333.5 186.5 333.2 187.0 334.0 187.5 334.7 188.0 335.4 188.5 333.8 189.0 334.3 189.5 334.7 190.0 333.7 190.5 333.8 191.0 333.9 191.5 332.4 192.0 333.9 192.5 334.8 193.0 333.2 193.5 333.6 194.0 333.1 194.5 332.1 195.0 332.7 195.5 333.2 196.0 333.6 196.5 334.6 197.0 334.3 197.5 333.9 198.0 334.6 198.5 333.6 199.0 333.4 199.5 333.5 200.0 334.0 200.5 334.9 201.0 334.3 201.5 333.2 202.0 333.3 202.5 333.6 203.0 334.0 203.5 334.4 204.0 333.5 204.5 334.1 205.0 335.1 205.5 334.2 206.0 334.4 206.5 334.6 207.0 333.7 207.5 334.0 208.0 333.8 208.5 333.4 209.0 333.8 209.5 335.0 210.0 336.0 210.5 334.9 211.0 335.0 211.5 335.2 212.0 334.4 212.5 335.0 213.0 334.9 213.5 335.9 214.0 335.9 214.5 333.7 215.0 334.4 215.5 334.8 216.0 333.9 216.5 332.3 217.0 333.1 217.5 335.4 218.0 335.3 218.5 335.4 219.0 336.0 219.5 335.4 220.0 334.9 220.5 334.5 221.0 333.8 221.5 334.9 222.0 335.3 222.5 333.9 223.0 333.9 223.5 334.6 224.0 333.9 224.5 334.3 225.0 334.5 225.5 333.3 226.0 332.9 226.5 334.9 227.0 334.7 227.5 333.8 228.0 335.1 228.5 335.3 229.0 334.3 229.5 333.7 230.0 334.5 230.5 335.2 231.0 334.7 231.5 333.6 232.0 334.6 232.5 335.9 233.0 335.6 233.5 334.6 234.0 334.6 234.5 335.0 235.0 335.3 235.5 334.5 236.0 334.1 236.5 334.7 237.0 334.0 237.5 334.3 238.0 335.0 238.5 334.6 239.0 334.8 239.5 334.2 240.0 334.0 240.5 335.1 241.0 335.3 241.5 335.7 242.0 334.8 242.5 333.3 243.0 334.2 243.5 335.3 244.0 336.5 244.5 336.6 245.0 334.8 245.5 334.9 246.0 335.0 246.5 333.6 247.0 335.7 247.5 336.8 248.0 335.7 248.5 335.8 249.0 336.5 249.5 336.3 250.0 336.0 250.5 335.2 251.0 333.6 251.5 335.1 252.0 336.9 252.5 336.3 253.0 335.6 253.5 335.4 254.0 334.9 254.5 335.7 255.0 336.5 255.5 335.9 256.0 335.7 256.5 336.1 257.0 336.2 257.5 336.0 258.0 335.0 258.5 334.9 259.0 336.9 259.5 336.3 260.0 334.9 260.5 335.8 261.0 336.4 261.5 336.3 262.0 334.7 262.5 334.7 263.0 334.9 263.5 334.1 264.0 335.2 264.5 335.5 265.0 335.7 265.5 337.8 266.0 337.7 266.5 336.3 267.0 335.3 267.5 334.5 268.0 334.4 268.5 334.5 269.0 334.5 269.5 334.4 270.0 334.9 270.5 334.7 271.0 334.0 271.5 333.8 272.0 334.9 272.5 335.8 273.0 336.1 273.5 336.7 274.0 335.9 274.5 335.7 275.0 335.1 275.5 336.0 276.0 337.6 276.5 336.1 277.0 334.7 277.5 335.1 278.0 334.7 278.5 334.0 279.0 335.6 279.5 336.1 280.0 335.3 280.5 335.9 281.0 335.5 281.5 335.2 282.0 335.5 282.5 334.8 283.0 335.4 283.5 335.3 284.0 336.2 284.5 336.4 285.0 336.5 285.5 336.2 286.0 335.4 286.5 335.3 287.0 334.2 287.5 335.0 288.0 336.2 288.5 335.3 289.0 335.7 289.5 336.0 290.0 335.3 290.5 336.0 291.0 336.3 291.5 335.0 292.0 335.6 292.5 337.1 293.0 335.9 293.5 334.9 294.0 334.2 294.5 334.0 295.0 335.3 295.5 335.9 296.0 334.9 296.5 334.8 297.0 336.5 297.5 336.6 298.0 335.3 298.5 336.3 299.0 336.9 299.5 336.2 300.0 335.5 300.5 334.6 301.0 334.2 301.5 334.9 302.0 335.5 302.5 336.0 303.0 336.5 303.5 336.4 304.0 336.2 304.5 335.5 305.0 334.0 305.5 334.3 306.0 335.1 306.5 335.0 307.0 335.4 307.5 335.1 308.0 334.6 308.5 335.3 309.0 336.0 309.5 335.7 310.0 335.9 310.5 336.2 311.0 335.3 311.5 335.4 312.0 337.2 312.5 336.8 313.0 336.4 313.5 337.6 314.0 337.8 314.5 336.5 315.0 336.8 315.5 337.4 316.0 336.0 316.5 335.8 317.0 336.3 317.5 336.5 318.0 336.1 318.5 336.8 319.0 336.5 319.5 335.1 320.0 336.0 320.5 337.1 321.0 337.3 321.5 336.2 322.0 336.2 322.5 337.1 323.0 337.5 323.5 336.5 324.0 335.6 324.5 336.2 325.0 335.1 325.5 334.9 326.0 336.5 326.5 336.6 327.0 335.5 327.5 336.4 328.0 337.4 328.5 337.5 329.0 336.4 329.5 335.8 330.0 336.9 330.5 336.5 331.0 335.5 331.5 336.4 332.0 337.7 332.5 336.6 333.0 334.1 333.5 333.9 334.0 334.8 334.5 335.6 335.0 336.6 335.5 336.6 336.0 335.8 336.5 336.0 337.0 335.8 337.5 335.7 338.0 335.9 338.5 337.6 339.0 338.4 339.5 336.3 340.0 335.2 340.5 335.5 341.0 335.1 341.5 334.9 342.0 335.5 342.5 336.4 343.0 336.6 343.5 335.6 344.0 335.1 344.5 334.8 345.0 335.6 345.5 336.2 346.0 336.9 346.5 336.7 347.0 336.6 347.5 337.2 348.0 336.5 348.5 335.2 349.0 334.4 349.5 336.1 350.0 337.7 350.5 337.4 351.0 337.0 351.5 336.6 352.0 335.9 352.5 335.8 353.0 336.6 353.5 337.2 354.0 336.5 354.5 336.1 355.0 336.5 355.5 336.9 356.0 336.1 356.5 336.9 357.0 337.6 357.5 336.6 358.0 337.3 358.5 337.9 359.0 337.0 359.5 336.7 360.0 336.1 360.5 335.4 361.0 334.7 361.5 335.8 362.0 336.0 362.5 335.7 363.0 336.4 363.5 335.4 364.0 335.7 364.5 336.5 365.0 337.0 365.5 337.9 366.0 337.7 366.5 337.2 367.0 336.6 367.5 336.5 368.0 337.0 368.5 336.3 369.0 336.1 369.5 336.4 370.0 336.6 370.5 336.8 371.0 336.4 371.5 335.7 372.0 336.5 372.5 335.9 373.0 335.1 373.5 337.0 374.0 335.8 374.5 334.4 375.0 336.5 375.5 335.9 376.0 337.1 376.5 336.5 377.0 335.8 377.5 338.3 378.0 338.0 378.5 336.9 379.0 336.6 379.5 336.2 380.0 336.5 380.5 336.3 381.0 335.7 381.5 337.0 382.0 336.5 382.5 335.6 383.0 336.4 383.5 335.8 384.0 336.4 384.5 337.4 385.0 335.8 385.5 335.6 386.0 336.0 386.5 335.7 387.0 336.2 387.5 336.2 388.0 336.7 388.5 336.7 389.0 336.7 389.5 337.1 390.0 337.0 390.5 336.8 391.0 335.9 391.5 335.6 392.0 336.2 392.5 337.5 393.0 338.4 393.5 338.6 394.0 337.5 394.5 336.6 395.0 336.7 395.5 336.8 396.0 337.4 396.5 338.0 397.0 336.7 397.5 335.7 398.0 337.0 398.5 337.6 399.0 336.6 399.5 337.2 400.0 337.1 400.5 336.2 401.0 336.2 401.5 335.2 402.0 336.0 402.5 336.4 403.0 335.5 403.5 335.8 404.0 336.6 404.5 337.0 405.0 336.6 405.5 335.6 406.0 335.6 406.5 335.7 407.0 335.9 407.5 337.0 408.0 336.8 408.5 337.9 409.0 338.2 409.5 337.3 410.0 337.1 410.5 336.6 411.0 337.1 411.5 337.9 412.0 336.5 412.5 336.5 413.0 337.6 413.5 337.5 414.0 337.5 414.5 336.2 415.0 335.2 415.5 337.1 416.0 337.9 416.5 336.0 417.0 336.0 417.5 336.7 418.0 335.4 418.5 334.2 419.0 334.3 419.5 335.9 420.0 336.8 420.5 336.5 421.0 336.7 421.5 337.2 422.0 335.8 422.5 335.3 423.0 336.0 423.5 335.5 424.0 335.6 424.5 336.3 425.0 336.5 425.5 335.7 426.0 335.6 426.5 337.6 427.0 337.3 427.5 335.1 428.0 335.9 428.5 337.2 429.0 337.4 429.5 336.3 430.0 336.7 430.5 336.9 431.0 335.6 431.5 335.7 432.0 336.3 432.5 337.1 433.0 337.5 433.5 337.1 434.0 337.3 434.5 337.4 435.0 337.3 435.5 336.5 436.0 335.0 436.5 336.3 437.0 336.4 437.5 335.7 438.0 336.5 438.5 336.4 439.0 336.2 439.5 337.3 440.0 336.1 440.5 335.8 441.0 338.7 441.5 338.2 442.0 336.8 442.5 337.2 443.0 338.3 443.5 337.2 444.0 336.1 444.5 336.7 445.0 337.0 445.5 337.2 446.0 337.3 446.5 336.9 447.0 336.6 447.5 336.4 448.0 336.0 448.5 336.3 449.0 336.6 449.5 336.0 450.0 337.1 450.5 337.7 451.0 335.9 451.5 336.7 452.0 337.0 452.5 336.7 453.0 337.1 453.5 337.0 454.0 337.1 454.5 336.6 455.0 336.5 455.5 338.1 456.0 336.7 456.5 335.5 457.0 337.1 457.5 336.5 458.0 335.4 458.5 337.3 459.0 337.9 459.5 337.9 460.0 338.4 460.5 337.2 461.0 337.2 461.5 337.5 462.0 338.0 462.5 337.8 463.0 337.2 463.5 337.1 464.0 337.8 464.5 338.2 465.0 336.8 465.5 335.9 466.0 336.7 466.5 336.7 467.0 336.3 467.5 336.1 468.0 336.2 468.5 337.0 469.0 337.8 469.5 337.5 470.0 338.2 470.5 338.1 471.0 338.8 471.5 339.4 472.0 337.8 472.5 336.9 473.0 334.9 473.5 335.1 474.0 336.9 474.5 338.2 475.0 337.3 475.5 337.2 476.0 337.9 476.5 337.2 477.0 335.8 477.5 335.5 478.0 336.8 478.5 337.1 479.0 337.4 479.5 336.3 480.0 336.8 480.5 337.9 481.0 337.7 481.5 337.9 482.0 338.2 482.5 337.6 483.0 336.1 483.5 335.3 484.0 336.9 484.5 338.2 485.0 337.5 485.5 336.8 486.0 336.7 486.5 337.0 487.0 336.8 487.5 336.4 488.0 337.9 488.5 338.4 489.0 336.8 489.5 335.8 490.0 335.8 490.5 337.0 491.0 337.9 491.5 337.3" stroke="#262626" stroke-width="2.6"/>
<path d="M62.0 133.8 L62.4 125.0 62.8 127.8 63.2 127.7 63.6 131.2 64.0 132.1 64.4 122.9 64.8 125.0 65.2 129.5 65.6 125.9 66.0 122.8 66.4 132.0 66.8 130.0 67.2 130.0 67.6 126.5 68.0 131.9 68.4 127.3 68.8 132.1 69.2 124.8 69.6 125.0 70.0 128.8 70.4 125.5 70.8 130.4 71.2 128.9 71.6 124.6 72.0 128.2 72.4 126.6 72.8 131.2 73.2 125.6 73.6 126.2 74.0 132.2 74.4 135.8 74.8 135.0 75.2 128.0 75.6 128.5 76.0 133.2 76.4 127.2 76.8 124.1 77.2 128.0 77.6 129.2 78.0 124.6 78.4 121.6 78.8 122.4 79.2 129.9 79.6 124.8 80.0 127.0 80.4 128.2 80.8 129.6 81.2 126.2 81.6 129.2 82.0 124.1 82.4 126.0 82.8 123.6 83.2 131.4 83.6 127.2 84.0 124.6 84.4 125.9 84.8 126.4 85.2 129.7 85.6 121.4 86.0 123.4 86.4 125.7 86.8 136.2 87.2 130.5 87.6 126.6 88.0 129.6 88.4 133.3 88.8 124.0 89.2 122.5 89.6 127.1 90.0 123.4 90.4 123.0 90.8 117.7 91.2 125.9 91.6 125.0 92.0 120.8 92.4 121.1 92.8 111.3 93.2 103.0 93.6 117.7 94.0 119.8 94.4 120.6 94.8 116.8 95.2 111.6 95.6 118.3 96.0 113.7 96.4 114.5 96.8 112.8 97.2 113.1 97.6 105.4 98.0 117.4 98.4 96.5 98.8 119.7 99.2 124.1 99.6 118.4 100.0 113.2 100.4 117.8 100.8 118.0 101.2 121.2 101.6 123.3 102.0 115.8 102.4 124.2 102.8 117.6 103.2 124.1 103.6 122.6 104.0 121.9 104.4 122.7 104.8 121.1 105.2 120.8 105.6 116.9 106.0 122.9 106.4 129.6 106.8 130.1 107.2 127.8 107.6 125.5 108.0 120.6 108.4 128.2 108.8 122.8 109.2 122.8 109.6 122.0 110.0 123.3 110.4 120.1 110.8 120.0 111.2 115.1 111.6 116.3 112.0 124.5 112.4 114.7 112.8 112.8 113.2 114.2 113.6 113.3 114.0 105.3 114.4 107.1 114.8 109.7 115.2 105.9 115.6 103.9 116.0 95.5 116.4 100.8 116.8 104.7 117.2 103.7 117.6 112.2 118.0 101.0 118.4 107.0 118.8 109.0 119.2 114.7 119.6 115.9 120.0 120.2 120.4 111.0 120.8 120.9 121.2 118.7 121.6 119.0 122.0 124.9 122.4 121.3 122.8 118.7 123.2 125.7 123.6 121.6 124.0 124.7 124.4 128.3 124.8 128.1 125.2 132.7 125.6 126.3 126.0 121.5 126.4 124.3 126.8 123.7 127.2 122.6 127.6 128.6 128.0 124.7 128.4 119.9 128.8 129.5 129.2 126.6 129.6 128.3 130.0 127.4 130.4 129.3 130.8 127.1 131.2 131.5 131.6 128.5 132.0 128.4 132.4 128.5 132.8 121.8 133.2 126.4 133.6 126.1 134.0 127.7 134.4 122.1 134.8 132.9 135.2 127.4 135.6 122.6 136.0 120.8 136.4 126.0 136.8 126.7 137.2 124.4 137.6 127.3 138.0 124.7 138.4 129.0 138.8 124.4 139.2 126.9 139.6 130.5 140.0 136.3 140.4 123.4 140.8 125.3 141.2 124.0 141.6 129.8 142.0 122.9 142.4 125.3 142.8 126.9 143.2 123.5 143.6 123.6 144.0 125.3 144.4 119.4 144.8 121.8 145.2 125.5 145.6 127.5 146.0 126.3 146.4 120.6 146.8 125.3 147.2 129.9 147.6 129.0 148.0 126.7 148.4 123.8 148.8 129.3 149.2 124.9 149.6 122.8 150.0 124.1 150.4 132.2 150.8 127.8 151.2 131.2 151.6 125.3 152.0 130.4 152.4 124.8 152.8 126.4 153.2 136.0 153.6 129.8 154.0 125.2 154.4 126.7 154.8 128.2 155.2 131.4 155.6 125.2 156.0 120.7 156.4 126.0 156.8 127.1 157.2 127.4 157.6 131.7 158.0 128.1 158.4 129.9 158.8 123.0 159.2 130.1 159.6 134.5 160.0 129.8 160.4 127.9 160.8 127.6 161.2 133.4 161.6 123.7 162.0 126.6 162.4 128.7 162.8 129.7 163.2 125.4 163.6 128.1 164.0 126.0 164.4 127.4 164.8 126.5 165.2 122.9 165.6 126.9 166.0 130.2 166.4 123.5 166.8 126.1 167.2 129.4 167.6 123.1 168.0 127.7 168.4 123.2 168.8 131.1 169.2 135.3 169.6 134.3 170.0 126.2 170.4 129.7 170.8 127.4 171.2 127.4 171.6 132.6 172.0 122.3 172.4 130.8 172.8 126.8 173.2 132.1 173.6 127.7 174.0 124.6 174.4 128.0 174.8 129.6 175.2 127.1 175.6 128.8 176.0 125.1 176.4 119.3 176.8 130.2 177.2 129.5 177.6 127.5 178.0 127.2 178.4 130.7 178.8 125.4 179.2 124.5 179.6 126.3 180.0 131.3 180.4 122.0 180.8 131.3 181.2 124.7 181.6 123.0 182.0 131.5 182.4 126.7 182.8 122.3 183.2 125.7 183.6 130.4 184.0 131.3 184.4 125.5 184.8 128.5 185.2 129.6 185.6 124.7 186.0 128.3 186.4 126.9 186.8 125.1 187.2 125.2 187.6 127.2 188.0 127.1 188.4 125.0 188.8 125.5 189.2 131.0 189.6 127.8 190.0 130.2 190.4 131.3 190.8 129.1 191.2 135.2 191.6 124.0 192.0 129.9 192.4 125.9 192.8 133.7 193.2 133.1 193.6 120.0 194.0 123.5 194.4 129.4 194.8 129.8 195.2 129.7 195.6 126.7 196.0 128.6 196.4 129.4 196.8 126.7 197.2 130.7 197.6 118.9 198.0 129.3 198.4 123.3 198.8 130.5 199.2 126.2 199.6 123.8 200.0 128.3 200.4 123.7 200.8 123.7 201.2 121.4 201.6 126.9 202.0 128.8 202.4 130.7 202.8 126.5 203.2 130.8 203.6 127.1 204.0 126.7 204.4 129.1 204.8 130.8 205.2 125.8 205.6 126.1 206.0 126.4 206.4 127.3 206.8 123.8 207.2 130.7 207.6 125.6 208.0 128.7 208.4 124.0 208.8 128.3 209.2 128.4 209.6 125.5 210.0 134.3 210.4 128.3 210.8 133.4 211.2 130.5 211.6 124.6 212.0 125.6 212.4 128.6 212.8 127.2 213.2 127.2 213.6 126.0 214.0 120.5 214.4 126.2 214.8 119.0 215.2 128.3 215.6 124.4 216.0 124.4 216.4 126.2 216.8 128.0 217.2 121.8 217.6 120.7 218.0 123.2 218.4 119.6 218.8 123.5 219.2 132.7 219.6 123.2 220.0 129.3 220.4 122.1 220.8 128.1 221.2 125.8 221.6 126.8 222.0 129.0 222.4 133.3 222.8 127.7 223.2 127.4 223.6 123.5 224.0 129.1 224.4 126.1 224.8 130.0 225.2 126.8 225.6 133.3 226.0 119.9 226.4 125.9 226.8 130.2 227.2 125.7 227.6 124.1 228.0 126.0 228.4 122.0 228.8 127.4 229.2 135.8 229.6 131.1 230.0 123.0 230.4 123.9 230.8 125.5 231.2 130.6 231.6 124.0 232.0 124.5 232.4 130.2 232.8 130.1 233.2 125.7 233.6 123.0 234.0 121.4 234.4 124.5 234.8 119.0 235.2 129.7 235.6 124.7 236.0 128.7 236.4 133.7 236.8 131.2 237.2 122.9 237.6 130.1 238.0 131.2 238.4 124.3 238.8 123.6 239.2 126.6 239.6 121.2 240.0 132.3 240.4 118.3 240.8 123.0 241.2 126.0 241.6 126.2 242.0 127.6 242.4 128.0 242.8 126.2 243.2 131.1 243.6 119.3 244.0 127.0 244.4 124.4 244.8 127.5 245.2 127.8 245.6 123.7 246.0 124.7 246.4 129.9 246.8 128.3 247.2 124.6 247.6 134.3 248.0 135.3 248.4 121.7 248.8 128.1 249.2 136.0 249.6 129.8 250.0 127.8 250.4 126.2 250.8 125.0 251.2 126.1 251.6 124.8 252.0 129.4 252.4 125.3 252.8 125.1 253.2 122.3 253.6 126.4 254.0 123.3 254.4 125.8 254.8 130.2 255.2 127.7 255.6 128.1 256.0 127.5 256.4 126.4 256.8 125.7 257.2 125.0 257.6 128.8 258.0 122.1 258.4 130.7 258.8 125.9 259.2 123.0 259.6 123.8 260.0 123.1 260.4 126.0 260.8 122.7 261.2 129.3 261.6 122.3 262.0 116.8 262.4 122.3 262.8 117.6 263.2 124.6 263.6 128.4 264.0 126.8 264.4 119.6 264.8 121.6 265.2 130.6 265.6 125.2 266.0 124.0 266.4 127.6 266.8 132.5 267.2 128.2 267.6 123.8 268.0 124.4 268.4 125.2 268.8 120.6 269.2 118.8 269.6 122.6 270.0 118.9 270.4 121.9 270.8 122.3 271.2 130.2 271.6 118.5 272.0 121.0 272.4 120.7 272.8 122.7 273.2 124.7 273.6 119.0 274.0 117.7 274.4 114.6 274.8 117.0 275.2 122.1 275.6 120.2 276.0 116.3 276.4 118.4 276.8 119.8 277.2 121.3 277.6 117.2 278.0 118.3 278.4 112.5 278.8 114.8 279.2 124.6 279.6 110.8 280.0 117.3 280.4 119.2 280.8 117.0 281.2 115.3 281.6 117.9 282.0 118.0 282.4 117.6 282.8 111.0 283.2 117.2 283.6 114.5 284.0 115.5 284.4 118.2 284.8 119.6 285.2 120.4 285.6 115.3 286.0 120.3 286.4 121.1 286.8 120.9 287.2 121.7 287.6 116.1 288.0 115.9 288.4 119.4 288.8 111.4 289.2 117.0 289.6 114.2 290.0 114.7 290.4 109.8 290.8 112.9 291.2 116.0 291.6 119.3 292.0 119.7 292.4 115.9 292.8 115.5 293.2 113.2 293.6 117.7 294.0 115.4 294.4 118.5 294.8 122.6 295.2 116.3 295.6 111.0 296.0 113.3 296.4 111.2 296.8 112.2 297.2 121.4 297.6 117.8 298.0 111.9 298.4 120.0 298.8 122.5 299.2 117.0 299.6 116.2 300.0 117.8 300.4 120.8 300.8 122.9 301.2 125.7 301.6 126.6 302.0 127.3 302.4 128.7 302.8 126.8 303.2 119.5 303.6 125.1 304.0 127.2 304.4 125.3 304.8 130.5 305.2 126.2 305.6 124.2 306.0 132.7 306.4 129.9 306.8 128.3 307.2 130.9 307.6 131.4 308.0 128.8 308.4 118.7 308.8 125.1 309.2 125.9 309.6 124.0 310.0 128.3 310.4 131.9 310.8 125.8 311.2 123.5 311.6 134.9 312.0 126.0 312.4 123.1 312.8 128.4 313.2 129.1 313.6 125.1 314.0 130.4 314.4 125.9 314.8 124.3 315.2 128.3 315.6 130.4 316.0 125.3 316.4 128.8 316.8 127.3 317.2 137.8 317.6 125.1 318.0 132.6 318.4 127.5 318.8 127.2 319.2 130.3 319.6 130.9 320.0 132.2 320.4 128.9 320.8 125.5 321.2 125.7 321.6 129.5 322.0 129.8 322.4 132.7 322.8 129.2 323.2 131.5 323.6 133.2 324.0 128.3 324.4 122.4 324.8 123.5 325.2 122.5 325.6 133.5 326.0 124.7 326.4 132.2 326.8 129.9 327.2 133.9 327.6 131.4 328.0 127.4 328.4 127.0 328.8 128.1 329.2 128.4 329.6 125.9 330.0 127.7 330.4 133.6 330.8 121.7 331.2 128.7 331.6 124.5 332.0 128.5 332.4 130.8 332.8 127.6 333.2 130.6 333.6 122.1 334.0 131.8 334.4 125.7 334.8 130.1 335.2 128.5 335.6 118.5 336.0 125.1 336.4 128.6 336.8 133.4 337.2 128.9 337.6 128.8 338.0 122.8 338.4 133.0 338.8 134.4 339.2 128.0 339.6 127.1 340.0 122.1 340.4 131.1 340.8 137.6 341.2 130.5 341.6 132.5 342.0 129.9 342.4 124.4 342.8 132.7 343.2 123.5 343.6 127.2 344.0 128.9 344.4 131.1 344.8 129.4 345.2 129.3 345.6 125.2 346.0 123.3 346.4 128.2 346.8 125.4 347.2 123.3 347.6 123.4 348.0 126.2 348.4 121.3 348.8 123.1 349.2 122.1 349.6 128.7 350.0 129.5 350.4 135.2 350.8 122.6 351.2 125.6 351.6 131.3 352.0 127.2 352.4 126.8 352.8 134.2 353.2 126.8 353.6 123.9 354.0 123.3 354.4 129.2 354.8 129.1 355.2 123.1 355.6 124.5 356.0 130.0 356.4 130.1 356.8 125.7 357.2 130.3 357.6 130.1 358.0 121.6 358.4 126.9 358.8 129.6 359.2 126.0 359.6 120.4 360.0 127.1 360.4 130.8 360.8 133.8 361.2 120.2 361.6 137.5 362.0 124.0 362.4 131.5 362.8 132.5 363.2 131.6 363.6 128.6 364.0 123.9 364.4 130.4 364.8 125.5 365.2 119.0 365.6 138.3 366.0 130.7 366.4 134.7 366.8 124.8 367.2 133.4 367.6 133.8 368.0 133.7 368.4 128.1 368.8 123.8 369.2 127.5 369.6 120.2 370.0 122.0 370.4 128.5 370.8 124.6 371.2 127.6 371.6 127.8 372.0 135.1 372.4 132.8 372.8 128.0 373.2 132.5 373.6 125.4 374.0 127.0 374.4 131.4 374.8 123.7 375.2 127.2 375.6 123.4 376.0 128.6 376.4 134.1 376.8 125.5 377.2 129.0 377.6 125.0 378.0 124.1 378.4 123.8 378.8 133.4 379.2 136.7 379.6 129.9 380.0 125.6 380.4 130.8 380.8 127.0 381.2 131.1 381.6 129.3 382.0 129.2 382.4 130.4 382.8 126.1 383.2 126.8 383.6 122.0 384.0 126.7 384.4 123.1 384.8 127.7 385.2 124.8 385.6 128.6 386.0 129.9 386.4 123.1 386.8 125.3 387.2 124.9 387.6 131.0 388.0 134.4 388.4 131.3 388.8 127.0 389.2 133.6 389.6 122.8 390.0 133.7 390.4 125.9 390.8 118.3 391.2 137.8 391.6 134.0 392.0 124.6 392.4 128.9 392.8 127.5 393.2 128.7 393.6 123.0 394.0 125.9 394.4 130.0 394.8 129.1 395.2 132.6 395.6 128.6 396.0 136.8 396.4 125.8 396.8 129.3 397.2 121.4 397.6 123.8 398.0 133.1 398.4 124.9 398.8 130.3 399.2 128.1 399.6 124.6 400.0 127.1 400.4 126.5 400.8 126.6 401.2 131.1 401.6 130.7 402.0 126.3 402.4 125.1 402.8 129.4 403.2 128.0 403.6 132.1 404.0 137.9 404.4 131.4 404.8 128.3 405.2 127.8 405.6 125.3 406.0 125.1 406.4 124.8 406.8 127.0 407.2 126.9 407.6 131.1 408.0 127.0 408.4 127.7 408.8 124.0 409.2 134.3 409.6 130.2 410.0 134.9 410.4 131.3 410.8 133.8 411.2 127.5 411.6 131.0 412.0 138.2 412.4 124.0 412.8 132.7 413.2 134.6 413.6 130.0 414.0 131.2 414.4 133.1 414.8 126.0 415.2 130.0 415.6 125.3 416.0 126.0 416.4 126.2 416.8 127.9 417.2 129.0 417.6 130.1 418.0 123.3 418.4 135.8 418.8 132.7 419.2 131.2 419.6 127.2 420.0 128.2 420.4 130.5 420.8 130.0 421.2 122.3 421.6 131.2 422.0 139.3 422.4 121.7 422.8 132.2 423.2 129.9 423.6 128.1 424.0 133.6 424.4 124.2 424.8 129.1 425.2 133.9 425.6 127.8 426.0 127.0 426.4 129.0 426.8 126.9 427.2 134.3 427.6 125.2 428.0 131.8 428.4 123.9 428.8 131.0 429.2 128.2 429.6 119.0 430.0 128.5 430.4 124.6 430.8 126.9 431.2 134.3 431.6 124.4 432.0 124.7 432.4 133.9 432.8 129.0 433.2 134.3 433.6 129.8 434.0 125.3 434.4 128.4 434.8 133.2 435.2 132.1 435.6 128.6 436.0 128.8 436.4 128.2 436.8 126.5 437.2 135.8 437.6 128.6 438.0 124.4 438.4 126.9 438.8 131.3 439.2 131.0 439.6 128.1 440.0 126.2 440.4 128.7 440.8 122.4 441.2 123.8 441.6 131.6 442.0 126.9 442.4 130.0 442.8 133.2 443.2 131.1 443.6 128.7 444.0 136.5 444.4 131.1 444.8 127.4 445.2 131.4 445.6 130.2 446.0 125.5 446.4 129.0 446.8 128.1 447.2 121.4 447.6 128.1 448.0 127.6 448.4 127.1 448.8 122.6 449.2 127.4 449.6 128.6 450.0 129.1 450.4 124.5 450.8 131.1 451.2 124.2 451.6 127.9 452.0 133.6 452.4 126.2 452.8 126.8 453.2 132.7 453.6 127.3 454.0 127.6 454.4 129.6 454.8 132.6 455.2 120.6 455.6 125.7 456.0 125.0 456.4 124.7 456.8 125.6 457.2 125.7 457.6 129.9 458.0 125.5 458.4 129.2 458.8 130.3 459.2 126.1 459.6 129.3 460.0 134.8 460.4 130.0 460.8 126.4 461.2 128.5 461.6 125.4 462.0 129.8 462.4 132.0 462.8 125.8 463.2 128.0 463.6 132.9 464.0 127.0 464.4 129.5 464.8 125.0 465.2 125.8 465.6 126.9 466.0 136.7 466.4 127.4 466.8 126.9 467.2 126.8 467.6 128.2 468.0 131.2 468.4 129.5 468.8 136.3 469.2 129.6 469.6 134.1 470.0 129.8 470.4 131.0 470.8 123.7 471.2 128.4 471.6 128.6 472.0 128.0 472.4 121.1 472.8 132.0 473.2 127.5 473.6 127.3 474.0 128.0 474.4 128.1 474.8 130.4 475.2 124.3 475.6 125.5 476.0 129.9 476.4 129.4 476.8 127.5 477.2 126.8 477.6 125.9 478.0 128.7 478.4 133.2 478.8 125.1 479.2 134.4 479.6 132.0 480.0 127.3 480.4 131.7 480.8 123.7 481.2 122.7 481.6 124.3 482.0 127.5 482.4 127.8 482.8 127.1 483.2 129.3 483.6 121.3 484.0 130.7 484.4 123.8 484.8 126.6 485.2 127.5 485.6 124.8 486.0 124.0 486.4 125.3 486.8 128.9 487.2 131.1 487.6 131.0 488.0 125.4 488.4 126.1 488.8 125.7 489.2 130.6" stroke="#362d8e" stroke-width="2.3"/>
<path d="M58.5 35.6 L59.2 36.2 59.9 39.9 60.6 40.3 61.3 38.6 62.0 42.4 62.7 46.4 63.4 47.8 64.1 47.3 64.8 48.9 65.5 53.0 66.2 52.0 66.9 51.3 67.6 50.9 68.3 50.1 69.0 50.7 69.7 52.5 70.4 53.6 71.1 54.5 71.8 57.0 72.5 56.2 73.2 51.8 73.9 51.2 74.6 55.5 75.3 56.6 76.0 54.1 76.7 53.1 77.4 54.0 78.1 53.5 78.8 56.9 79.5 56.9 80.2 55.1 80.9 57.9 81.6 57.0 82.3 55.3 83.0 56.5 83.7 56.8 84.4 54.5 85.1 54.6 85.8 58.9 86.5 56.2 87.2 55.3 87.9 58.2 88.6 55.6 89.3 58.8 90.0 61.2 90.7 55.5 91.4 54.2 92.1 57.0 92.8 56.3 93.5 56.3 94.2 56.3 94.9 56.0 95.6 57.6 96.3 54.2 97.0 51.0 97.7 50.6 98.4 50.6 99.1 49.4 99.8 48.3 100.5 50.1 101.2 52.7 101.9 54.8 102.6 50.9 103.3 47.4 104.0 50.6 104.7 48.5 105.4 46.5 106.1 49.6 106.8 53.3 107.5 55.3 108.2 47.8 108.9 43.9 109.6 42.6 110.3 42.8 111.0 41.6 111.7 39.4 112.4 39.1 113.1 38.4 113.8 37.4 114.5 37.8 115.2 39.1 115.9 40.7 116.6 42.7 117.3 44.3 118.0 44.3 118.7 45.1 119.4 43.9 120.1 41.9 120.8 39.8 121.5 37.1 122.2 34.0 122.9 31.7 123.6 30.6 124.3 28.9 125.0 30.1 125.7 31.2 126.4 32.8 127.1 36.3 127.8 35.3 128.5 31.7 129.2 31.2 129.9 34.6 130.6 36.8 131.3 38.3 132.0 40.2 132.7 42.1 133.4 42.0 134.1 42.5 134.8 44.1 135.5 44.2 136.2 44.4 136.9 45.2 137.6 46.9 138.3 50.2 139.0 50.3 139.7 50.3 140.4 50.4 141.1 48.5 141.8 47.2 142.5 51.7 143.2 50.5 143.9 51.8 144.6 53.0 145.3 53.5 146.0 55.6 146.7 56.2 147.4 58.5 148.1 55.1 148.8 57.0 149.5 62.1 150.2 59.8 150.9 56.9 151.6 56.8 152.3 55.6 153.0 57.7 153.7 58.4 154.4 56.5 155.1 56.1 155.8 55.1 156.5 54.3 157.2 57.5 157.9 59.4 158.6 58.9 159.3 59.2 160.0 56.3 160.7 55.8 161.4 56.0 162.1 56.6 162.8 56.9 163.5 56.4 164.2 54.7 164.9 53.8 165.6 59.0 166.3 59.2 167.0 54.6 167.7 56.3 168.4 60.5 169.1 57.5 169.8 54.7 170.5 56.1 171.2 53.5 171.9 55.8 172.6 58.8 173.3 57.6 174.0 56.4 174.7 57.0 175.4 57.4 176.1 56.4 176.8 55.4 177.5 53.6 178.2 57.8 178.9 59.0 179.6 57.2 180.3 58.0 181.0 56.8 181.7 56.0 182.4 57.8 183.1 58.1 183.8 56.8 184.5 57.4 185.2 59.6 185.9 60.7 186.6 59.4 187.3 57.3 188.0 54.3 188.7 56.9 189.4 60.9 190.1 59.0 190.8 58.3 191.5 59.9 192.2 60.4 192.9 60.6 193.6 58.4 194.3 59.4 195.0 58.1 195.7 57.0 196.4 59.9 197.1 60.0 197.8 62.3 198.5 63.3 199.2 58.2 199.9 52.8 200.6 56.2 201.3 57.3 202.0 55.9 202.7 59.1 203.4 56.3 204.1 51.3 204.8 54.5 205.5 58.2 206.2 57.3 206.9 57.3 207.6 56.3 208.3 53.6 209.0 54.8 209.7 55.7 210.4 53.2 211.1 55.8 211.8 58.4 212.5 58.3 213.2 56.7 213.9 54.9 214.6 54.9 215.3 54.5 216.0 56.5 216.7 56.7 217.4 57.0 218.1 58.9 218.8 61.7 219.5 58.8 220.2 56.9 220.9 59.1 221.6 57.5 222.3 55.2 223.0 54.5 223.7 58.2 224.4 58.9 225.1 57.7 225.8 57.4 226.5 59.2 227.2 59.7 227.9 54.0 228.6 52.8 229.3 53.2 230.0 48.9 230.7 51.3 231.4 59.1 232.1 60.1 232.8 55.9 233.5 54.2 234.2 58.1 234.9 60.0 235.6 58.1 236.3 57.8 237.0 57.7 237.7 59.2 238.4 60.1 239.1 59.1 239.8 56.4 240.5 56.9 241.2 57.5 241.9 58.5 242.6 57.5 243.3 55.4 244.0 57.6 244.7 55.5 245.4 58.5 246.1 63.2 246.8 59.5 247.5 58.3 248.2 59.8 248.9 54.0 249.6 53.8 250.3 58.1 251.0 57.9 251.7 56.1 252.4 55.5 253.1 57.1 253.8 59.5 254.5 60.4 255.2 58.4 255.9 60.4 256.6 59.5 257.3 56.2 258.0 54.1 258.7 57.4 259.4 62.2 260.1 61.0 260.8 60.6 261.5 59.2 262.2 58.4 262.9 57.8 263.6 57.1 264.3 57.6 265.0 60.5 265.7 61.4 266.4 58.7 267.1 56.8 267.8 55.8 268.5 59.5 269.2 61.5 269.9 58.9 270.6 57.4 271.3 55.4 272.0 55.9 272.7 59.3 273.4 58.7 274.1 56.9 274.8 57.1 275.5 57.7 276.2 55.4 276.9 54.8 277.6 56.1 278.3 58.0 279.0 58.1 279.7 57.6 280.4 61.5 281.1 60.0 281.8 56.4 282.5 57.2 283.2 58.3 283.9 56.3 284.6 57.0 285.3 62.2 286.0 60.9 286.7 57.2 287.4 55.8 288.1 56.7 288.8 56.4 289.5 54.0 290.2 58.3 290.9 58.6 291.6 58.3 292.3 62.4 293.0 61.0 293.7 59.4 294.4 62.2 295.1 61.0 295.8 56.6 296.5 54.7 297.2 55.8 297.9 60.6 298.6 62.1 299.3 58.0 300.0 54.9 300.7 55.7 301.4 57.6 302.1 58.1 302.8 58.0 303.5 58.9 304.2 58.0 304.9 57.4 305.6 58.3 306.3 58.2 307.0 58.7 307.7 62.0 308.4 62.2 309.1 59.1 309.8 55.2 310.5 55.8 311.2 55.4 311.9 52.3 312.6 57.1 313.3 60.6 314.0 58.9 314.7 54.8 315.4 54.5 316.1 56.2 316.8 57.9 317.5 62.9 318.2 62.2 318.9 57.0 319.6 54.7 320.3 55.9 321.0 57.6 321.7 55.7 322.4 56.2 323.1 56.2 323.8 57.9 324.5 61.7 325.2 61.6 325.9 59.0 326.6 58.1 327.3 58.6 328.0 57.1 328.7 56.8 329.4 55.2 330.1 53.3 330.8 56.9 331.5 59.0 332.2 58.0 332.9 60.1 333.6 56.8 334.3 53.7 335.0 57.0 335.7 59.0 336.4 58.0 337.1 59.1 337.8 60.1 338.5 56.3 339.2 54.4 339.9 57.8 340.6 60.2 341.3 55.6 342.0 57.1 342.7 61.3 343.4 61.3 344.1 59.6 344.8 56.8 345.5 55.6 346.2 60.4 346.9 62.0 347.6 60.4 348.3 59.6 349.0 57.2 349.7 55.4 350.4 54.5 351.1 59.0 351.8 57.5 352.5 57.7 353.2 60.4 353.9 56.8 354.6 55.4 355.3 56.4 356.0 57.1 356.7 57.0 357.4 55.7 358.1 56.1 358.8 55.7 359.5 54.1 360.2 55.7 360.9 59.4 361.6 56.9 362.3 55.4 363.0 56.9 363.7 55.2 364.4 57.8 365.1 58.6 365.8 59.7 366.5 59.2 367.2 57.3 367.9 58.3 368.6 56.3 369.3 57.7 370.0 58.7 370.7 58.8 371.4 58.9 372.1 56.1 372.8 56.0 373.5 57.9 374.2 59.7 374.9 58.1 375.6 56.4 376.3 55.0 377.0 56.2 377.7 57.3 378.4 53.1 379.1 54.8 379.8 59.8 380.5 57.3 381.2 53.6 381.9 54.9 382.6 54.8 383.3 56.7 384.0 57.3 384.7 55.4 385.4 57.8 386.1 57.7 386.8 57.5 387.5 57.1 388.2 54.3 388.9 52.8 389.6 58.0 390.3 60.6 391.0 57.9 391.7 58.4 392.4 58.2 393.1 58.4 393.8 61.3 394.5 59.5 395.2 53.6 395.9 53.6 396.6 54.0 397.3 57.0 398.0 60.7 398.7 57.8 399.4 54.0 400.1 55.0 400.8 59.8 401.5 55.6 402.2 54.1 402.9 57.1 403.6 57.9 404.3 57.9 405.0 55.7 405.7 55.0 406.4 53.8 407.1 58.7 407.8 61.7 408.5 58.7 409.2 55.8 409.9 53.3 410.6 54.1 411.3 57.3 412.0 57.8 412.7 57.7 413.4 55.9 414.1 56.0 414.8 57.8 415.5 60.1 416.2 63.4 416.9 60.9 417.6 56.5 418.3 56.6 419.0 56.9 419.7 55.7 420.4 56.6 421.1 56.1 421.8 57.3 422.5 58.9 423.2 58.2 423.9 58.1 424.6 56.5 425.3 55.2 426.0 56.0 426.7 56.7 427.4 57.5 428.1 58.4 428.8 55.7 429.5 55.8 430.2 55.8 430.9 54.7 431.6 56.5 432.3 54.0 433.0 54.6 433.7 58.4 434.4 58.0 435.1 57.0 435.8 56.6 436.5 55.7 437.2 55.9 437.9 56.6 438.6 57.2 439.3 56.1 440.0 56.4 440.7 58.6 441.4 58.0 442.1 57.0 442.8 58.2 443.5 56.1 444.2 56.0 444.9 59.2 445.6 58.9 446.3 59.1 447.0 57.5 447.7 56.5 448.4 58.6 449.1 59.8 449.8 59.1 450.5 55.8 451.2 56.3 451.9 60.9 452.6 61.7 453.3 60.1 454.0 55.8 454.7 57.0 455.4 59.3 456.1 53.5 456.8 54.3 457.5 56.1 458.2 53.3 458.9 54.7 459.6 59.1 460.3 59.5 461.0 57.8 461.7 61.4 462.4 63.7 463.1 60.5 463.8 57.4 464.5 55.5 465.2 54.7 465.9 57.5 466.6 59.4 467.3 58.9 468.0 59.9 468.7 58.4 469.4 56.6 470.1 59.1 470.8 60.2 471.5 60.8 472.2 60.5 472.9 58.1 473.6 58.1 474.3 56.9 475.0 53.5 475.7 56.2 476.4 58.9 477.1 58.4 477.8 55.6 478.5 54.5 479.2 56.4 479.9 55.5 480.6 52.7 481.3 53.6 482.0 59.0 482.7 60.2 483.4 57.6 484.1 57.0 484.8 59.3 485.5 54.6 486.2 53.1 486.9 58.7 487.6 60.1 488.3 62.0 489.0 62.8 489.7 60.5 490.4 59.0" stroke="#262626" stroke-width="2.9"/>
</g>
<g stroke="#000" stroke-width="2.35" fill="none" stroke-linecap="butt">
<path d="M57.7 3.3 V435 H490.6" stroke-linejoin="miter"/>
<line x1="88.10" y1="435" x2="88.10" y2="442.5"/><line x1="119.02" y1="435" x2="119.02" y2="439.3"/><line x1="149.93" y1="435" x2="149.93" y2="442.5"/><line x1="180.85" y1="435" x2="180.85" y2="439.3"/><line x1="211.77" y1="435" x2="211.77" y2="442.5"/><line x1="242.69" y1="435" x2="242.69" y2="439.3"/><line x1="273.60" y1="435" x2="273.60" y2="442.5"/><line x1="304.52" y1="435" x2="304.52" y2="439.3"/><line x1="335.44" y1="435" x2="335.44" y2="442.5"/><line x1="366.35" y1="435" x2="366.35" y2="439.3"/><line x1="397.27" y1="435" x2="397.27" y2="442.5"/><line x1="428.19" y1="435" x2="428.19" y2="439.3"/><line x1="459.10" y1="435" x2="459.10" y2="442.5"/><line x1="490.02" y1="435" x2="490.02" y2="439.3"/>
</g>
<g font-size="20" fill="#1a1a1a"><text x="88.10" y="465.8" text-anchor="middle">200</text><text x="149.93" y="465.8" text-anchor="middle">400</text><text x="211.77" y="465.8" text-anchor="middle">600</text><text x="273.60" y="465.8" text-anchor="middle">800</text><text x="335.44" y="465.8" text-anchor="middle">1000</text><text x="397.27" y="465.8" text-anchor="middle">1200</text><text x="459.10" y="465.8" text-anchor="middle">1400</text></g>
<g fill="#1a1a1a" stroke="#1a1a1a" stroke-width="0.35" font-size="17.5">
<text x="427.27" y="45.5" textLength="57.39" lengthAdjust="spacingAndGlyphs">bornite</text>
<text x="373.97" y="322.7" textLength="45.58" lengthAdjust="spacingAndGlyphs">pyrite</text>
<text x="412.49" y="413.8" textLength="75.95" lengthAdjust="spacingAndGlyphs">anhydrite</text>
</g>
<text x="420.18" y="211.9" font-size="17.5" fill="#e61e26" stroke="#e61e26" stroke-width="0.35" textLength="66.7" lengthAdjust="spacingAndGlyphs">djurleite</text>
<g fill="#362d8e" stroke="#362d8e" stroke-width="0.35" font-size="17.5">
<text x="249.59" y="101.8" textLength="65.57" lengthAdjust="spacingAndGlyphs">(rruff id:</text>
<text x="319.95" y="101.8" textLength="84.27" lengthAdjust="spacingAndGlyphs">R120090.2)</text>
<text x="411.91" y="101.8" textLength="80.42" lengthAdjust="spacingAndGlyphs">chalcocite</text>
</g>
<g fill="#1a1a1a" stroke="#1a1a1a" stroke-width="0.3">
<text x="163.86" y="506.7" font-size="23" textLength="177.59" lengthAdjust="spacingAndGlyphs">Raman shift [cm</text>
<rect x="344" y="491.6" width="2.8" height="1.3"/>
<path d="M351.1 487 V494.6 M351.1 487.2 L349 489" fill="none" stroke-width="1.4"/>
<text x="353" y="506.7" font-size="23">]</text>
<text transform="translate(23.3,337.1) rotate(-90)" font-size="23.5" textLength="152.3" lengthAdjust="spacingAndGlyphs">Intensity [a.u.]</text>
</g>
</svg>
</body></html>
